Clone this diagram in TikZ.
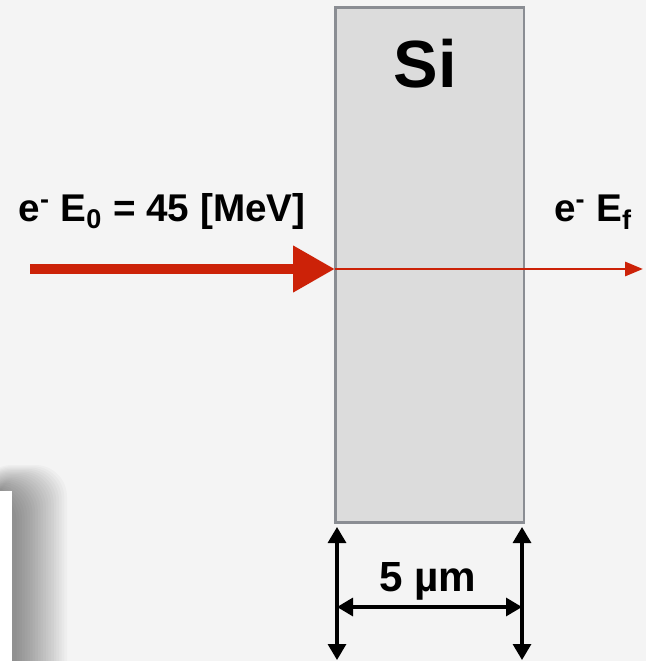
\documentclass[tikz,border=0pt]{standalone}
\usepackage{fontspec}
\setmainfont{Liberation Sans}
\usetikzlibrary{arrows.meta,positioning}
\definecolor{bgcol}{HTML}{F4F4F4}
\definecolor{beamred}{RGB}{204,34,8}
\definecolor{slabfill}{HTML}{DCDCDC}
\definecolor{slabedge}{HTML}{8A8D93}

\tikzset{
  slab/.style={draw=slabedge, fill=slabfill, line width=1.7pt, minimum width=3.78cm, minimum height=10.32cm, inner sep=0pt},
  label/.style={font=\fontsize{22}{26}\selectfont\bfseries, anchor=base, inner sep=0pt},
  beamin/.style={draw=beamred, line width=6.2pt, -{Triangle[length=0.84cm, width=0.88cm]}},
  beamout/.style={draw=beamred, line width=1.7pt, -{Triangle[length=0.36cm, width=0.28cm]}},
  dim/.style={line width=1.8pt, {Triangle[length=0.32cm, width=0.36cm]}-{Triangle[length=0.32cm, width=0.36cm]}}
}

\begin{document}
\begin{tikzpicture}[x=0.02cm, y=-0.02cm]
\fill[bgcol] (0,0) rectangle (646,661);
\useasboundingbox (0,0) rectangle (646,661);

% window shadow, lower left
\foreach \i in {0,...,19}
  \fill[black, opacity=0.025, rounded corners=18] (-20,465+1.3*\i) rectangle (67-2.65*\i,700);
\fill[white] (-5,491) rectangle (12,700);

% silicon slab
\node[slab] (slab) at (429.5,265) {};
\node[font=\fontsize{38}{42}\selectfont\bfseries, anchor=base, inner sep=0pt] (si) at (425,88) {Si};

% beam
\coordinate (src) at (30,269);
\coordinate (hit) at (335,269);
\coordinate (out) at (643,269);
\draw[beamin] (src) -- (hit);
\draw[beamout] (hit) -- (out);
\node[label] (ein) at (162,222) {e\textsuperscript{-} E\textsubscript{0} = 45 [MeV]};
\node[label] (eout) at (593,222) {e\textsuperscript{-} E\textsubscript{f}};

% thickness
\coordinate (lt) at (337,527);
\coordinate (lb) at (337,660);
\coordinate (rt) at (522,527);
\coordinate (rb) at (522,660);
\coordinate (lm) at (337,607);
\coordinate (rm) at (522,607);
\draw[dim] (lt) -- (lb);
\draw[dim] (rt) -- (rb);
\draw[dim] (lm) -- (rm);
\node[label, font=\fontsize{24}{28}\selectfont\bfseries] (width) at (428,591) {5 µm};
\end{tikzpicture}
\end{document}
